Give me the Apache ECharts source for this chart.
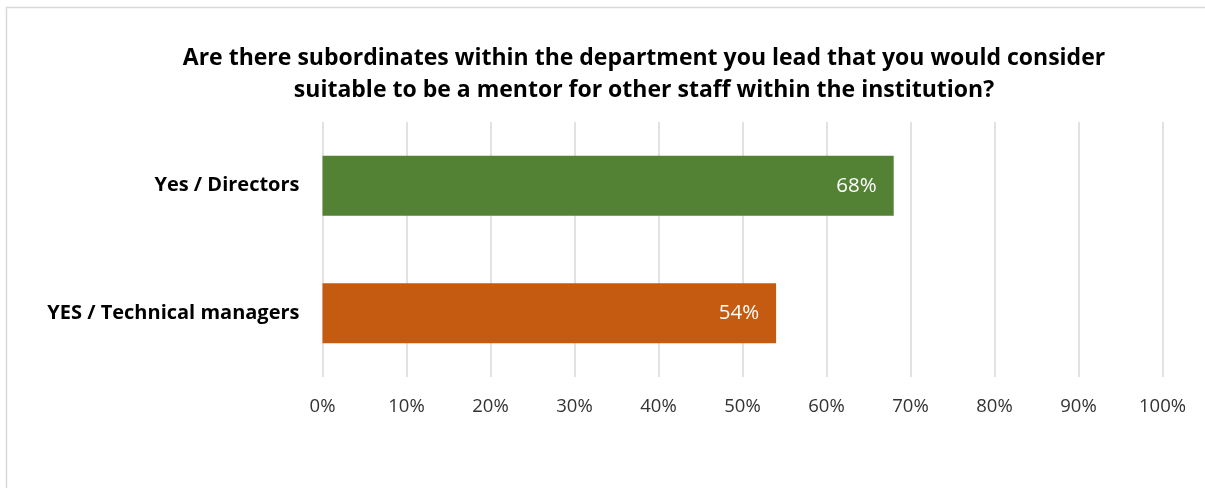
<!DOCTYPE html>
<html>
<head>
<meta charset="utf-8">
<script src="https://cdn.jsdelivr.net/npm/echarts@6/dist/echarts.min.js"></script>
<style>
  html, body { margin: 0; padding: 0; background: #ffffff; }
  #chart { width: 1205px; height: 488px; }
</style>
</head>
<body>
<div id="chart"></div>
<script>
// Survey answers, top bar first
const categories = ['Yes / Directors', 'YES / Technical managers'];
const values = [68, 54];
const barColors = ['#548235', '#C55A11'];
const titleLines = [
  'Are there subordinates within the department you lead that you would consider',
  'suitable to be a mentor for other staff within the institution?'
];

const FONT = '"Open Sans", "Noto Sans", sans-serif';

const chart = echarts.init(document.getElementById('chart'), null, { renderer: 'canvas' });

chart.setOption({
  backgroundColor: '#ffffff',
  animation: false,
  title: {
    text: titleLines.join('\n'),
    left: 639,
    textAlign: 'center',
    top: 37,
    textStyle: {
      fontFamily: FONT,
      fontWeight: 'bold',
      fontSize: 23,
      lineHeight: 32,
      color: '#000000'
    }
  },
  graphic: [{
    type: 'rect',
    silent: true,
    shape: { x: 6.5, y: 7.5, width: 1300, height: 600 },
    style: { fill: 'none', stroke: '#d9d9d9', lineWidth: 1.5 }
  }],
  grid: { left: 322.5, right: 42.5, top: 122, bottom: 111, containLabel: false },
  xAxis: {
    type: 'value',
    min: 0,
    max: 100,
    interval: 10,
    axisLine: { show: false },
    axisTick: { show: false },
    splitLine: { show: true, lineStyle: { color: '#d9d9d9', width: 1.5 } },
    axisLabel: {
      formatter: '{value}%',
      margin: 20,
      fontFamily: FONT,
      fontSize: 18.5,
      color: '#333333'
    }
  },
  yAxis: {
    type: 'category',
    data: categories,
    inverse: true,
    axisLine: { show: false },
    axisTick: { show: false },
    axisLabel: {
      margin: 23,
      fontFamily: FONT,
      fontWeight: 'bold',
      fontSize: 20,
      color: '#000000'
    }
  },
  series: [{
    type: 'bar',
    barWidth: 60,
    data: values.map((v, i) => ({ value: v, itemStyle: { color: barColors[i] } })),
    label: {
      show: true,
      position: 'insideRight',
      distance: 17,
      formatter: '{c}%',
      fontFamily: FONT,
      fontSize: 20.5,
      color: '#ffffff'
    }
  }]
});
</script>
</body>
</html>
